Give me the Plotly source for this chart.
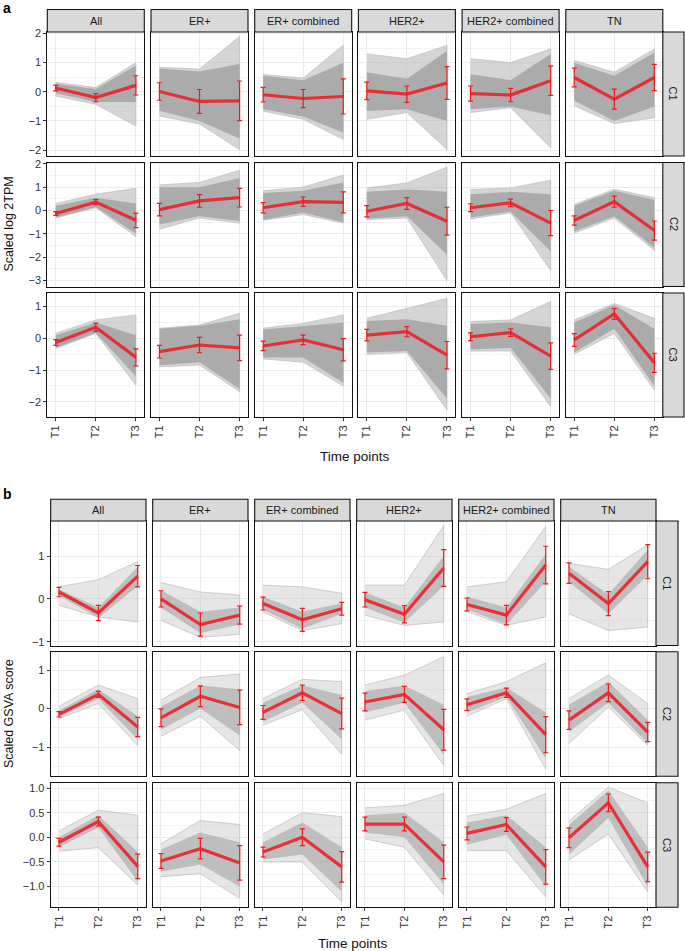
import plotly.graph_objects as go

# ---------------- data ----------------
times = ["T1", "T2", "T3"]
groups = ["All", "ER+", "ER+ combined", "HER2+", "HER2+ combined", "TN"]
clusters = ["C1", "C2", "C3"]

# Panel a : Scaled log 2TPM  (each list: 6 groups x 3 time points)
a_C1_mean = [[0.13, -0.2, 0.22], [0.01, -0.33, -0.31], [-0.1, -0.23, -0.16], [0.03, -0.08, 0.3], [-0.06, -0.11, 0.38], [0.49, -0.25, 0.49]]
a_C1_sd = [[0.1, 0.14, 0.33], [0.3, 0.41, 0.68], [0.25, 0.31, 0.6], [0.3, 0.28, 0.56], [0.26, 0.23, 0.5], [0.32, 0.34, 0.45]]
a_C2_mean = [[-0.13, 0.36, -0.42], [0.04, 0.41, 0.55], [0.12, 0.38, 0.35], [-0.03, 0.3, -0.46], [0.12, 0.33, -0.54], [-0.43, 0.38, -0.86]]
a_C2_sd = [[0.08, 0.11, 0.31], [0.27, 0.27, 0.4], [0.22, 0.2, 0.45], [0.24, 0.25, 0.6], [0.17, 0.16, 0.54], [0.2, 0.24, 0.41]]
a_C3_mean = [[-0.13, 0.35, -0.6], [-0.42, -0.21, -0.3], [-0.24, -0.05, -0.36], [0.1, 0.21, -0.53], [0.05, 0.18, -0.56], [-0.05, 0.77, -0.77]]
a_C3_sd = [[0.09, 0.13, 0.27], [0.2, 0.24, 0.4], [0.15, 0.15, 0.35], [0.18, 0.16, 0.43], [0.12, 0.12, 0.42], [0.2, 0.17, 0.3]]

a_C1_hi = [[0.32, 0.15, 1.0], [0.84, 0.78, 1.9], [0.59, 0.47, 1.6], [1.3, 1.13, 1.59], [1.13, 1.0, 1.47], [1.07, 0.67, 1.47]]
a_C1_lo = [[-0.14, -0.43, -1.17], [-0.83, -1.1, -1.98], [-0.66, -0.94, -1.63], [-0.94, -0.71, -1.98], [-0.71, -0.54, -1.92], [-0.48, -1.09, -0.89]]
a_C2_hi = [[0.3, 0.7, 0.95], [1.1, 1.2, 1.73], [0.85, 1.0, 1.52], [0.97, 1.18, 1.86], [0.9, 0.97, 1.3], [0.26, 0.91, 0.55]]
a_C2_lo = [[-0.32, 0.12, -1.12], [-0.8, -0.32, -0.54], [-0.42, -0.17, -0.54], [-0.39, -0.32, -3.0], [-0.36, -0.1, -2.57], [-0.97, -0.32, -1.7]]
a_C3_hi = [[0.16, 0.58, 0.74], [0.32, 0.42, 0.79], [0.32, 0.47, 0.74], [0.63, 0.95, 1.26], [0.53, 0.58, 1.16], [0.58, 1.1, 0.63]]
a_C3_lo = [[-0.32, 0.16, -1.47], [-0.9, -0.84, -1.68], [-0.65, -0.75, -1.5], [-0.5, -0.45, -2.26], [-0.4, -0.4, -2.15], [-0.5, 0.16, -1.63]]

a_C1_core_hi = [[0.28, 0.1, 0.9], [0.8, 0.7, 0.95], [0.55, 0.4, 1.0], [0.67, 0.45, 1.4], [0.6, 0.4, 1.3], [1.0, 0.55, 1.35]]
a_C1_core_lo = [[-0.05, -0.35, -0.35], [-0.65, -1.0, -1.6], [-0.6, -0.85, -1.4], [-0.66, -0.6, -1.0], [-0.6, -0.5, -0.8], [-0.3, -1.0, -0.5]]
a_C2_core_hi = [[0.2, 0.55, 0.3], [1.0, 1.0, 1.4], [0.75, 0.85, 1.2], [0.8, 0.9, 0.8], [0.7, 0.8, 0.7], [0.2, 0.85, 0.45]]
a_C2_core_lo = [[-0.3, 0.15, -1.0], [-0.6, -0.25, -0.45], [-0.4, -0.1, -0.5], [-0.35, -0.25, -1.9], [-0.3, -0.05, -1.75], [-0.9, -0.25, -1.6]]
a_C3_core_hi = [[0.1, 0.5, 0.1], [0.3, 0.4, 0.6], [0.28, 0.4, 0.5], [0.55, 0.6, 0.4], [0.45, 0.5, 0.35], [0.5, 1.05, 0.3]]
a_C3_core_lo = [[-0.3, 0.18, -1.2], [-0.85, -0.75, -1.6], [-0.6, -0.6, -1.4], [-0.45, -0.4, -1.9], [-0.35, -0.3, -1.9], [-0.45, 0.3, -1.5]]

# Panel b : Scaled GSVA score
b_C1_mean = [[0.16, -0.33, 0.53], [0.0, -0.6, -0.38], [-0.11, -0.49, -0.23], [-0.02, -0.36, 0.72], [-0.13, -0.38, 0.79], [0.6, -0.11, 0.87]]
b_C1_sd = [[0.11, 0.18, 0.25], [0.19, 0.27, 0.21], [0.15, 0.27, 0.15], [0.17, 0.2, 0.43], [0.15, 0.23, 0.44], [0.24, 0.28, 0.4]]
b_C2_mean = [[-0.15, 0.37, -0.48], [-0.24, 0.32, 0.03], [-0.1, 0.41, -0.13], [0.17, 0.37, -0.55], [0.1, 0.41, -0.68], [-0.3, 0.41, -0.61]]
b_C2_sd = [[0.07, 0.08, 0.25], [0.23, 0.27, 0.45], [0.18, 0.2, 0.4], [0.23, 0.21, 0.53], [0.15, 0.12, 0.47], [0.24, 0.23, 0.25]]
b_C3_mean = [[-0.1, 0.32, -0.59], [-0.48, -0.23, -0.52], [-0.3, 0.0, -0.6], [0.27, 0.27, -0.5], [0.08, 0.26, -0.6], [-0.01, 0.7, -0.6]]
b_C3_sd = [[0.08, 0.09, 0.25], [0.15, 0.21, 0.35], [0.1, 0.17, 0.31], [0.14, 0.14, 0.34], [0.13, 0.14, 0.35], [0.2, 0.18, 0.3]]

b_C1_hi = [[0.28, 0.45, 0.87], [0.38, 0.16, 0.09], [0.32, 0.28, 0.13], [0.32, 0.32, 1.71], [0.28, 0.4, 1.69], [0.83, 0.69, 1.26]]
b_C1_lo = [[-0.15, -0.42, -0.54], [-0.5, -0.9, -0.83], [-0.3, -0.74, -0.58], [-0.38, -0.62, -0.54], [-0.3, -0.62, -0.42], [-0.35, -0.74, -0.66]]
b_C2_hi = [[0.06, 0.61, 0.26], [0.22, 0.81, 0.9], [0.26, 0.76, 0.7], [0.61, 0.87, 1.35], [0.39, 0.7, 1.19], [0.26, 0.87, 0.13]]
b_C2_lo = [[-0.26, 0.13, -0.96], [-0.72, -0.2, -1.09], [-0.43, -0.03, -1.19], [-0.3, -0.04, -1.48], [-0.2, 0.26, -1.57], [-0.91, 0.04, -0.96]]
b_C3_hi = [[0.13, 0.55, 0.45], [-0.13, 0.34, 0.26], [0.07, 0.5, 0.42], [0.6, 0.65, 0.89], [0.43, 0.57, 0.89], [0.33, 1.02, 0.7]]
b_C3_lo = [[-0.28, -0.21, -0.97], [-0.8, -0.74, -1.24], [-0.5, -0.5, -1.31], [-0.03, -0.2, -1.17], [-0.27, -0.27, -1.21], [-0.46, 0.07, -1.11]]

b_C1_core_hi = [[0.22, -0.2, 0.75], [0.2, -0.3, -0.2], [0.05, -0.3, -0.1], [0.15, -0.2, 1.0], [0.05, -0.2, 1.05], [0.75, 0.1, 1.15]]
b_C1_core_lo = [[0.08, -0.45, 0.3], [-0.2, -0.8, -0.6], [-0.25, -0.7, -0.35], [-0.2, -0.55, 0.3], [-0.25, -0.6, 0.4], [0.4, -0.35, 0.55]]
b_C2_core_hi = [[-0.05, 0.5, -0.2], [0.05, 0.6, 0.5], [0.15, 0.6, 0.35], [0.45, 0.6, 0.1], [0.3, 0.55, -0.1], [0.1, 0.7, -0.3]]
b_C2_core_lo = [[-0.22, 0.25, -0.8], [-0.55, 0.0, -0.7], [-0.35, 0.15, -0.8], [-0.1, 0.15, -1.2], [-0.1, 0.3, -1.3], [-0.6, 0.15, -0.9]]
b_C3_core_hi = [[0.0, 0.45, -0.3], [-0.25, 0.1, -0.1], [-0.1, 0.3, -0.2], [0.45, 0.5, -0.1], [0.3, 0.45, -0.2], [0.25, 0.95, -0.2]]
b_C3_core_lo = [[-0.2, 0.2, -0.9], [-0.7, -0.55, -1.0], [-0.45, -0.35, -1.1], [0.1, 0.0, -0.95], [-0.15, 0.05, -1.0], [-0.35, 0.4, -1.0]]

a_yranges = [[-2.2, 2.05], [-3.26, 2.06], [-2.48, 1.43]]
b_yranges = [[-1.09, 1.82], [-1.76, 1.48], [-1.42, 1.11]]
a_yticks = [[-2, -1, 0, 1, 2], [-3, -2, -1, 0, 1, 2], [-2, -1, 0, 1]]
b_yticks = [[-1, 0, 1], [-1, 0, 1], [-1.0, -0.5, 0.0, 0.5, 1.0]]

# ---------------- geometry ----------------
W, H = 685, 951
FONT = "Liberation Sans, Arial, Helvetica, sans-serif"

panels = [
    dict(mean=[a_C1_mean, a_C2_mean, a_C3_mean], sd=[a_C1_sd, a_C2_sd, a_C3_sd],
         hi=[a_C1_hi, a_C2_hi, a_C3_hi], lo=[a_C1_lo, a_C2_lo, a_C3_lo],
         chi=[a_C1_core_hi, a_C2_core_hi, a_C3_core_hi], clo=[a_C1_core_lo, a_C2_core_lo, a_C3_core_lo],
         yr=a_yranges, yt=a_yticks, minor=[0.5, 0.5, 0.5], fmt=["", "", ""],
         col0=47.3, dcol=103.7, cw=97.0, rows=[32.0, 162.5, 293.0], rh=124.0,
         strip_top=9.5, strip_right=684.0, ytitle="Scaled log 2TPM", xtitle_y=456.0,
         label="a", label_y=8.0,
         outer="rgba(185,185,185,0.6)", core="rgba(165,165,165,0.88)"),
    dict(mean=[b_C1_mean, b_C2_mean, b_C3_mean], sd=[b_C1_sd, b_C2_sd, b_C3_sd],
         hi=[b_C1_hi, b_C2_hi, b_C3_hi], lo=[b_C1_lo, b_C2_lo, b_C3_lo],
         chi=[b_C1_core_hi, b_C2_core_hi, b_C3_core_hi], clo=[b_C1_core_lo, b_C2_core_lo, b_C3_core_lo],
         yr=b_yranges, yt=b_yticks, minor=[0.5, 0.5, 0.25], fmt=["d", "d", ".1f"],
         col0=50.7, dcol=102.0, cw=95.3, rows=[521.0, 651.7, 782.7], rh=124.5,
         strip_top=499.3, strip_right=678.0, ytitle="Scaled GSVA score", xtitle_y=943.0,
         label="b", label_y=494.0,
         outer="rgba(200,200,200,0.45)", core="rgba(172,172,172,0.7)"),
]

fig = go.Figure()
layout = dict(width=W, height=H, margin=dict(l=0, r=0, t=0, b=0, pad=0),
              paper_bgcolor="white", plot_bgcolor="white", showlegend=False,
              font=dict(family=FONT, size=11, color="#222222"))
shapes, annotations = [], []

def fx(px):
    return px / W

def fy(py):
    return 1 - py / H

k = 0
for P in panels:
    for r in range(3):
        for c in range(6):
            k += 1
            s = "" if k == 1 else str(k)
            x0 = P["col0"] + c * P["dcol"]
            x1 = x0 + P["cw"]
            y0 = P["rows"][r]
            y1 = y0 + P["rh"]
            bottom = (r == 2)
            left = (c == 0)
            layout["xaxis" + s] = dict(
                domain=[fx(x0), fx(x1)], anchor="y" + s, type="category",
                categoryorder="array", categoryarray=times, range=[-0.21, 2.21],
                showgrid=True, gridcolor="#ebebeb", gridwidth=1, zeroline=False,
                showline=True, mirror=True, linecolor="#111111", linewidth=1.1,
                ticks="outside" if bottom else "", ticklen=3, tickcolor="#333333",
                showticklabels=bottom, tickangle=-90, automargin=False,
                tickfont=dict(family=FONT, size=11, color="#333333"))
            layout["yaxis" + s] = dict(
                domain=[fy(y1), fy(y0)], anchor="x" + s, range=P["yr"][r],
                tickvals=P["yt"][r], tickformat=P["fmt"][r],
                showgrid=True, gridcolor="#ebebeb", gridwidth=1, zeroline=False,
                minor=dict(dtick=P["minor"][r], tick0=0, showgrid=True, gridcolor="#f3f3f3", gridwidth=0.6),
                showline=True, mirror=True, linecolor="#111111", linewidth=1.1,
                ticks="outside" if left else "", ticklen=3, tickcolor="#333333",
                showticklabels=left, automargin=False,
                tickfont=dict(family=FONT, size=11, color="#333333"))
            xa, ya = "x" + s, "y" + s
            hi, lo = P["hi"][r][c], P["lo"][r][c]
            chi, clo = P["chi"][r][c], P["clo"][r][c]
            poly_x = times + times[::-1]
            fig.add_trace(go.Scatter(x=poly_x, y=hi + lo[::-1], fill="toself", mode="lines",
                                     fillcolor=P["outer"], line=dict(color="rgba(190,190,190,0.9)", width=0.8),
                                     hoverinfo="skip", xaxis=xa, yaxis=ya))
            fig.add_trace(go.Scatter(x=poly_x, y=chi + clo[::-1], fill="toself", mode="lines",
                                     fillcolor=P["core"], line=dict(width=0),
                                     hoverinfo="skip", xaxis=xa, yaxis=ya))
            fig.add_trace(go.Scatter(x=times, y=P["mean"][r][c], mode="lines",
                                     line=dict(color="rgba(236,30,36,0.88)", width=3.2),
                                     error_y=dict(type="data", array=P["sd"][r][c], visible=True,
                                                  color="#f01818", thickness=1.2, width=2.5),
                                     hoverinfo="skip", xaxis=xa, yaxis=ya))
    # top strips
    for c in range(6):
        x0 = P["col0"] + c * P["dcol"]
        x1 = x0 + P["cw"]
        shapes.append(dict(type="rect", xref="paper", yref="paper", x0=fx(x0), x1=fx(x1),
                           y0=fy(P["rows"][0]), y1=fy(P["strip_top"]),
                           fillcolor="#d9d9d9", line=dict(color="#111111", width=1.1), layer="above"))
        annotations.append(dict(xref="paper", yref="paper", x=fx((x0 + x1) / 2),
                                y=fy((P["strip_top"] + P["rows"][0]) / 2), text=groups[c],
                                showarrow=False, xanchor="center", yanchor="middle",
                                font=dict(family=FONT, size=11, color="#1a1a1a")))
    # right strips
    xr0 = P["col0"] + 5 * P["dcol"] + P["cw"]
    for r in range(3):
        y0 = P["rows"][r]
        y1 = y0 + P["rh"]
        shapes.append(dict(type="rect", xref="paper", yref="paper", x0=fx(xr0), x1=fx(P["strip_right"]),
                           y0=fy(y1), y1=fy(y0), fillcolor="#d9d9d9",
                           line=dict(color="#111111", width=1.1), layer="above"))
        annotations.append(dict(xref="paper", yref="paper", x=fx((xr0 + P["strip_right"]) / 2),
                                y=fy((y0 + y1) / 2), text=clusters[r], textangle=90,
                                showarrow=False, xanchor="center", yanchor="middle",
                                font=dict(family=FONT, size=11, color="#1a1a1a")))
    # axis titles
    xmid = (P["col0"] + 5 * P["dcol"] + P["cw"] + P["col0"]) / 2
    annotations.append(dict(xref="paper", yref="paper", x=fx(xmid), y=fy(P["xtitle_y"]),
                            text="Time points", showarrow=False, xanchor="center", yanchor="middle",
                            font=dict(family=FONT, size=13.5, color="#111111")))
    ymid = (P["rows"][0] + P["rows"][2] + P["rh"]) / 2
    annotations.append(dict(xref="paper", yref="paper", x=fx(9), y=fy(ymid),
                            text=P["ytitle"], textangle=-90, showarrow=False,
                            xanchor="center", yanchor="middle",
                            font=dict(family=FONT, size=12.5, color="#111111")))
    annotations.append(dict(xref="paper", yref="paper", x=fx(1), y=fy(P["label_y"]),
                            text="<b>" + P["label"] + "</b>", showarrow=False,
                            xanchor="left", yanchor="middle",
                            font=dict(family=FONT, size=14, color="#000000")))

layout["shapes"] = shapes
layout["annotations"] = annotations
fig.update_layout(**layout)
fig.write_html("out.html", config={"displayModeBar": False},
               post_script="document.body.style.margin='0px';document.body.style.padding='0px';")
